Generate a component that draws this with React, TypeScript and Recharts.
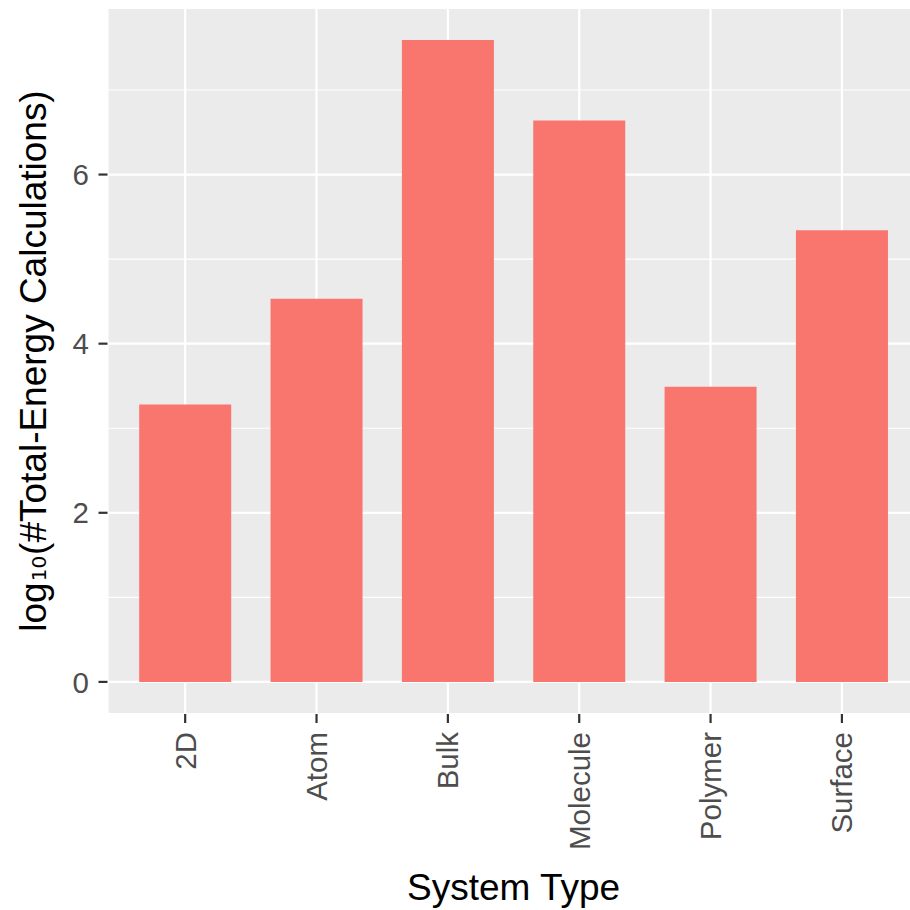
import React from 'react';
import { BarChart, Bar, XAxis, YAxis, CartesianGrid } from 'recharts';

const categories = ['2D', 'Atom', 'Bulk', 'Molecule', 'Polymer', 'Surface'];
const logCounts = [3.28, 4.53, 7.59, 6.64, 3.49, 5.34];
const yTicks = [0, 2, 4, 6];
const yMinorTicks = [1, 3, 5, 7];

const data = categories.map((c, i) => ({ system: c, value: logCounts[i] }));
const maxVal = Math.max(...logCounts);
const yDomain = [-0.05 * maxVal, 1.05 * maxVal];

const FONT = '"Liberation Sans", Arial, Helvetica, sans-serif';
const TICK_SIZE = 29.5;
const TITLE_SIZE = 37;

const XTick = (props: any) => {
  const { x, y, payload } = props;
  return (
    <text
      x={0}
      y={0}
      transform={`translate(${x + 10.5},${y}) rotate(-90)`}
      textAnchor="end"
      fill="#4D4D4D"
      fontSize={TICK_SIZE}
      fontFamily={FONT}
    >
      {payload.value}
    </text>
  );
};

const YTick = (props: any) => {
  const { x, y, payload } = props;
  return (
    <text x={x} y={y} dy="0.36em" textAnchor="end" fill="#4D4D4D" fontSize={TICK_SIZE} fontFamily={FONT}>
      {payload.value}
    </text>
  );
};

const YTitle = (props: any) => {
  const vb = props.viewBox || { x: 0, y: 8, width: 107, height: 706 };
  const cy = vb.y + vb.height / 2;
  const cx = 46;
  return (
    <text
      x={0}
      y={0}
      transform={`translate(${cx},${cy}) rotate(-90)`}
      textAnchor="middle"
      fill="#000000"
      fontSize={TITLE_SIZE}
      fontFamily={FONT}
    >
      <tspan>log</tspan>
      <tspan fontSize={20} fontFamily='"DejaVu Sans", sans-serif' dx={1}>10</tspan>
      <tspan dx={1}>(#Total-Energy Calculations)</tspan>
    </text>
  );
};

const XTitle = (props: any) => {
  const vb = props.viewBox || { x: 107.5, y: 714, width: 812, height: 196 };
  const cx = vb.x + vb.width / 2;
  return (
    <text x={cx} y={900} textAnchor="middle" fill="#000000" fontSize={TITLE_SIZE} fontFamily={FONT}>
      System Type
    </text>
  );
};

const minorGen = (props: any) => {
  const scale = props?.yAxis?.scale;
  if (typeof scale === 'function') return yMinorTicks.map((v) => scale(v));
  if (scale && typeof scale.map === 'function') return yMinorTicks.map((v) => scale.map(v));
  const off = props?.offset;
  if (!off) return [];
  const [d0, d1] = yDomain;
  return yMinorTicks.map((v) => off.top + ((d1 - v) / (d1 - d0)) * off.height);
};

export default function App() {
  return (
    <div
      style={{
        position: 'absolute',
        left: 0,
        top: 0,
        width: 910,
        height: 910,
        overflow: 'hidden',
        background: '#ffffff',
      }}
    >
      <BarChart
        width={919.6}
        height={910}
        data={data}
        margin={{ top: 8, right: 0, bottom: 0, left: 0 }}
        barCategoryGap="15%"
      >
        <CartesianGrid fill="#EBEBEB" stroke="#FFFFFF" strokeWidth={2.2} horizontal={true} vertical={true} />
        <CartesianGrid
          stroke="#FFFFFF"
          strokeWidth={1.1}
          vertical={false}
          horizontalCoordinatesGenerator={minorGen}
          syncWithTicks={false}
        />
        <XAxis
          dataKey="system"
          type="category"
          height={196}
          padding={{ left: 12, right: 12 }}
          axisLine={false}
          tickLine={{ stroke: '#333333', strokeWidth: 2.2 }}
          tickSize={9}
          tickMargin={9}
          tick={<XTick />}
          interval={0}
          label={{ content: <XTitle /> }}
        />
        <YAxis
          type="number"
          width={107.5}
          domain={yDomain}
          allowDataOverflow={true}
          ticks={yTicks}
          axisLine={false}
          tickLine={{ stroke: '#333333', strokeWidth: 2.2 }}
          tickSize={9}
          tickMargin={9.5}
          tick={<YTick />}
          label={{ content: <YTitle /> }}
        />
        <Bar dataKey="value" fill="#F8766D" isAnimationActive={false} />
      </BarChart>
    </div>
  );
}
